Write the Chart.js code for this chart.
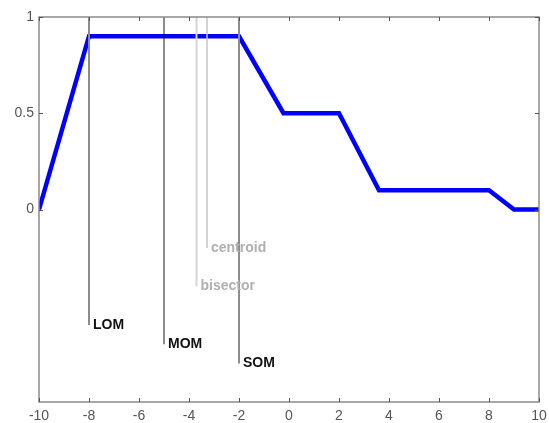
<!DOCTYPE html>
<html>
<head>
<meta charset="utf-8">
<script src="https://cdn.jsdelivr.net/npm/chart.js@4"></script>
<style>
    html, body { margin: 0; padding: 0; background: #fff; }
    #wrap { width: 549px; height: 423px; }
</style>
</head>
<body>
<div id="wrap"><canvas id="defuzzchart"></canvas></div>
<script>
// aggregated output membership function
var xValues = [-10, -8, -2, -0.22, 2, 3.6, 8, 9, 10];
var muValues = [0, 0.9, 0.9, 0.5, 0.5, 0.1, 0.1, 0, 0];

// defuzzified results, each drawn as a vertical marker
var markerNames = ['centroid', 'bisector', 'MOM', 'SOM', 'LOM'];
var markerX = [-3.28, -3.7, -5, -2, -8];
var markerBottom = [-0.2, -0.4, -0.7, -0.8, -0.6];
var markerTop = 1.2;

// axis ticks
var xTicks = [-10, -8, -6, -4, -2, 0, 2, 4, 6, 8, 10];
var yTicks = [0, 0.5, 1];

var markerColors = ['#c4c4c4', '#d6d6d6', '#1a1a1a', '#8c8c8c', '#8c8c8c'];
var markerWidths = [1.5, 2, 1, 2, 2];
var markerTextColors = ['#b0b0b0', '#b0b0b0', '#111', '#111', '#111'];

var datasets = [];
markerNames.forEach(function (name, i) {
    datasets.push({
        label: name,
        data: [{ x: markerX[i], y: markerBottom[i] }, { x: markerX[i], y: markerTop }],
        borderColor: markerColors[i],
        borderWidth: markerWidths[i],
        pointRadius: 0,
        showLine: true
    });
});
// blue curve last so the markers are drawn over it
datasets.push({
    label: 'aggregated',
    data: xValues.map(function (x, i) { return { x: x, y: muValues[i] }; }),
    borderColor: '#0000ff',
    borderWidth: 4.5,
    borderJoinStyle: 'miter',
    pointRadius: 0,
    showLine: true,
    tension: 0
});

// frame box, inward ticks and marker labels
var matlabAxes = {
    id: 'matlabAxes',
    afterDatasetsDraw: function (chart) {
        var ctx = chart.ctx;
        var a = chart.chartArea;
        var xs = chart.scales.x, ys = chart.scales.y;
        ctx.save();
        ctx.strokeStyle = '#8a8a8a';
        ctx.lineWidth = 1.5;
        ctx.strokeRect(a.left, a.top, a.right - a.left, a.bottom - a.top);
        ctx.lineWidth = 1;
        ctx.strokeStyle = '#555';
        ctx.beginPath();
        xTicks.forEach(function (t) {
            var px = Math.round(xs.getPixelForValue(t)) + 0.5;
            ctx.moveTo(px, a.bottom); ctx.lineTo(px, a.bottom - 4);
            ctx.moveTo(px, a.top); ctx.lineTo(px, a.top + 4);
        });
        yTicks.forEach(function (t) {
            var py = Math.round(ys.getPixelForValue(t)) + 0.5;
            ctx.moveTo(a.left, py); ctx.lineTo(a.left + 4, py);
            ctx.moveTo(a.right, py); ctx.lineTo(a.right - 4, py);
        });
        ctx.stroke();

        ctx.font = 'bold 14px "Liberation Sans", Arial, sans-serif';
        ctx.textAlign = 'left';
        ctx.textBaseline = 'middle';
        markerNames.forEach(function (name, i) {
            ctx.fillStyle = markerTextColors[i];
            ctx.fillText(name, xs.getPixelForValue(markerX[i]) + 4, ys.getPixelForValue(markerBottom[i]));
        });
        ctx.restore();
    }
};

var ctx = document.getElementById('defuzzchart').getContext('2d');
var defuzzchart = new Chart(ctx, {
    type: 'scatter',
    data: { datasets: datasets },
    options: {
        responsive: true,
        maintainAspectRatio: false,
        animation: false,
        layout: { padding: { top: 17, right: 10, left: 0, bottom: 0 } },
        plugins: {
            legend: { display: false },
            tooltip: { enabled: false }
        },
        scales: {
            x: {
                type: 'linear',
                min: -10,
                max: 10,
                afterBuildTicks: function (scale) {
                    scale.ticks = xTicks.map(function (v) { return { value: v }; });
                },
                afterFit: function (scale) {
                    scale.height = 21;
                    scale.paddingLeft = 0;
                    scale.paddingRight = 0;
                },
                grid: { display: false, drawTicks: false },
                border: { display: false },
                ticks: {
                    padding: 6,
                    maxRotation: 0,
                    color: '#555',
                    font: { family: '"Liberation Sans", Arial, sans-serif', size: 14 }
                }
            },
            y: {
                type: 'linear',
                min: -1,
                max: 1,
                afterBuildTicks: function (scale) {
                    scale.ticks = yTicks.map(function (v) { return { value: v }; });
                },
                afterFit: function (scale) {
                    scale.width = 39;
                    scale.paddingTop = 0;
                    scale.paddingBottom = 0;
                },
                grid: { display: false, drawTicks: false },
                border: { display: false },
                ticks: {
                    padding: 5,
                    color: '#555',
                    font: { family: '"Liberation Sans", Arial, sans-serif', size: 14 },
                    callback: function (v) { return String(v); }
                }
            }
        }
    },
    plugins: [matlabAxes]
});
</script>
</body>
</html>
